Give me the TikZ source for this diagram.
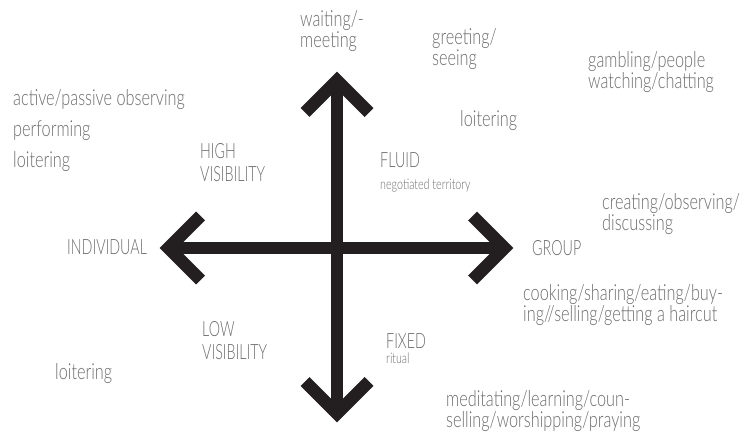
\documentclass[tikz,border=0pt]{standalone}
\usepackage{fontspec}
\setmainfont{Lato}[UprightFont=* Light, FakeStretch=0.74]
\newfontfamily\capsfont{Lato}[UprightFont=* Light, FakeStretch=0.68]
\definecolor{txt}{RGB}{108,108,110}
\definecolor{ink}{RGB}{35,31,32}
\tikzset{
  lbl/.style={anchor=base west, inner sep=0pt, text=txt, align=left,
    font=\fontsize{22}{21}\selectfont},
  capslbl/.style={lbl, font=\capsfont\fontsize{21}{23}\selectfont},
  smalllbl/.style={lbl, font=\fontsize{14.5}{14}\selectfont},
  axisline/.style={draw=ink, line width=12.5pt, line cap=butt, line join=miter}
}
\begin{document}
\begin{tikzpicture}[x=1pt,y=-1pt]
\useasboundingbox (0,0) rectangle (753,438);
% axes
\coordinate (L) at (168.5,248);
\coordinate (R) at (504.5,248);
\coordinate (T) at (337,80.5);
\coordinate (B) at (337,413.5);
\draw[axisline] (L) -- (R);
\draw[axisline] (T) -- (B);
\draw[axisline] ([shift={(32,-32)}]L) -- (L) -- ([shift={(32,32)}]L);
\draw[axisline] ([shift={(-32,-32)}]R) -- (R) -- ([shift={(-32,32)}]R);
\draw[axisline] ([shift={(-32,32)}]T) -- (T) -- ([shift={(32,32)}]T);
\draw[axisline] ([shift={(-32,-32)}]B) -- (B) -- ([shift={(32,-32)}]B);
% labels (multi-line nodes: base = last line)
\node[lbl] (wait) at (300,48) {waiting/-\\meeting};
\node[lbl] (greet) at (432,66) {greeting/\\seeing};
\node[lbl] (gamb) at (588,89) {gambling/people\\watching/chatting};
\node[lbl] (act) at (13,106) {active/passive observing};
\node[lbl] (perf) at (13,137) {performing};
\node[lbl] (loita) at (13,168) {loitering};
\node[capslbl] (high) at (200,182) {HIGH\\VISIBILITY};
\node[capslbl] (fluid) at (380,168) {FLUID};
\node[smalllbl] (negot) at (380,190) {negotiated territory};
\node[lbl] (loitb) at (460,127) {loitering};
\node[capslbl] (indiv) at (67,255) {INDIVIDUAL};
\node[capslbl] (group) at (532,256) {GROUP};
\node[lbl] (creat) at (602,231) {creating/observing/\\discussing};
\node[lbl] (cook) at (523,322) {cooking/sharing/eating/buy-\\ing//selling/getting a haircut};
\node[capslbl] (low) at (202,360) {LOW\\VISIBILITY};
\node[capslbl] (fixed) at (386,349) {FIXED};
\node[smalllbl] (ritual) at (386,364) {ritual};
\node[lbl] (loitc) at (55,380) {loitering};
\node[lbl] (medit) at (446,428) {meditating/learning/coun-\\selling/worshipping/praying};
\end{tikzpicture}
\end{document}
